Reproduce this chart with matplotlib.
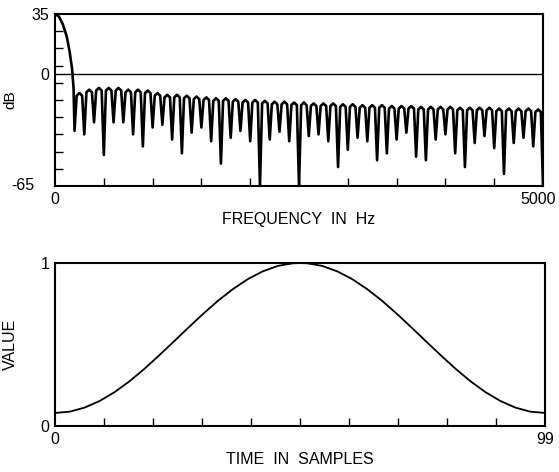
import numpy as np
import matplotlib
matplotlib.use("Agg")
import matplotlib.pyplot as plt

plt.rcParams["font.family"] = ["Liberation Sans", "DejaVu Sans"]

# ── top panel: log-magnitude spectrum (dB) of the window ─────────────────────
# main lobe
main_hz = [0, 40, 80, 120, 150, 175, 190, 200]
main_db = [35, 33.5, 29, 22, 13, 3, -8, -33]

# side lobes: nulls every 100 Hz from 200 Hz, peaks halfway between
null_db = [-33, -35, -28, -47, -28, -28, -35, -42, -31, -29.5,
           -38, -46, -34, -31, -39, -52, -37, -33, -39, -65,
           -38, -33.5, -39, -65, -36, -35, -39, -54, -44, -37,
           -39, -50, -46, -38, -34, -48, -50, -38, -35, -46,
           -54, -40, -36, -43, -58, -40, -37, -42, -65]
peak_db = [-11, -9, -8, -8, -8, -9, -9, -9.5, -11, -12,
           -12, -12.5, -13, -13.5, -14, -14, -14.5, -15, -15, -15.5,
           -16, -16, -16.5, -16.5, -17, -17, -17, -17.5, -17.5, -18,
           -18, -18, -18.5, -18.5, -18.5, -19, -19, -19, -19, -19.5,
           -19.5, -19.5, -19.5, -20, -20, -20, -20, -20.5]
assert len(null_db) == len(peak_db) + 1

# ── bottom panel: the 100-point window ────────────────────────────────────────
win_n = [0, 3, 6, 9, 12, 15, 18, 21, 24, 27, 30, 33, 36, 39, 42, 45, 48, 49.5,
         51, 54, 57, 60, 63, 66, 69, 72, 75, 78, 81, 84, 87, 90, 93, 96, 99]
win_v = [0.080, 0.088, 0.113, 0.153, 0.207, 0.273, 0.349, 0.432, 0.518, 0.605,
         0.690, 0.770, 0.841, 0.902, 0.949, 0.982, 0.998, 1.000,
         0.998, 0.982, 0.949, 0.902, 0.841, 0.770, 0.690, 0.605, 0.518, 0.432,
         0.349, 0.273, 0.207, 0.153, 0.113, 0.088, 0.080]

# build the spectrum trace: each side lobe drawn as null -> rounded top -> null
nulls_hz = 200 + 100 * np.arange(len(null_db))
fx, fy = list(main_hz), list(main_db)
for i, p in enumerate(peak_db):
    f0 = nulls_hz[i]
    fx += [f0 + 22, f0 + 50, f0 + 78, f0 + 100]
    fy += [p - 1.5, p, p - 1.5, null_db[i + 1]]

fig = plt.figure(figsize=(5.59, 4.72), dpi=100)
FS = 11.5

# top
ax1 = fig.add_axes([0.0984, 0.606, 0.873, 0.3644])
ax1.plot(fx, fy, color="black", lw=1.9, solid_joinstyle="round")
ax1.axhline(0, color="black", lw=1.0)
ax1.set_xlim(0, 5000)
ax1.set_ylim(-65, 35)
ax1.set_xticks([0], ["0"])
ax1.set_yticks([0, 35], ["0", "35"])
ax1.set_xticks(np.arange(500, 5000, 500), minor=True)
ax1.set_yticks(np.arange(25, -65, -10), minor=True)
ax1.tick_params(which="major", length=0, labelsize=FS, pad=4)
ax1.tick_params(which="minor", direction="in", length=6, width=1.0)
# end labels sit a little off their ticks, as in the reference
ax1.annotate("5000", xy=(5000, -65), xytext=(9, -4), textcoords="offset points",
             ha="right", va="top", fontsize=FS, annotation_clip=False)
ax1.annotate("-65", xy=(0, -65), xytext=(-15, 0), textcoords="offset points",
             ha="right", va="center", fontsize=FS, annotation_clip=False)
ax1.set_xlabel("FREQUENCY  IN  Hz", fontsize=FS, labelpad=4)
ax1.set_ylabel("dB", fontsize=11)
ax1.yaxis.set_label_coords(-0.078, 0.5)
for s in ax1.spines.values():
    s.set_linewidth(1.5)

# bottom
ax2 = fig.add_axes([0.0984, 0.0975, 0.8766, 0.3453])
ax2.plot(win_n, win_v, color="black", lw=1.3)
ax2.set_xlim(0, 99)
ax2.set_ylim(0, 1)
ax2.set_xticks([0, 99], ["0", "99"])
ax2.set_yticks([0, 1], ["0", "1"])
ax2.set_xticks(np.arange(1, 10) * 9.9, minor=True)
ax2.tick_params(which="major", length=0, labelsize=FS, pad=4)
ax2.tick_params(which="minor", direction="in", length=6, width=1.0)
ax2.set_xlabel("TIME  IN  SAMPLES", fontsize=FS, labelpad=4)
ax2.set_ylabel("VALUE", fontsize=FS)
ax2.yaxis.set_label_coords(-0.075, 0.5)
for s in ax2.spines.values():
    s.set_linewidth(1.5)

fig.savefig("out.png", dpi=100)
